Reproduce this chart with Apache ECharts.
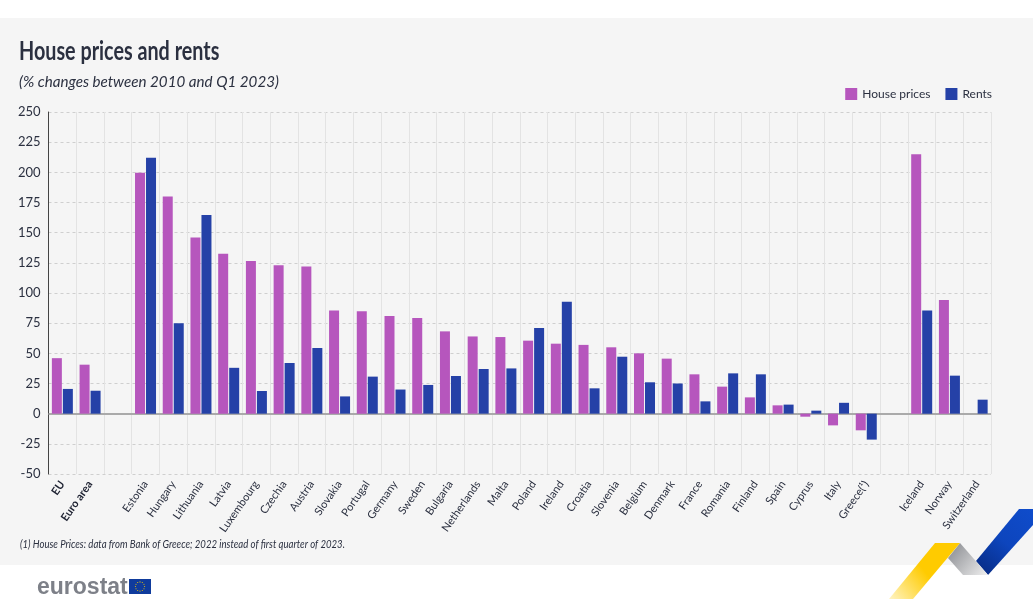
<!DOCTYPE html>
<html>
<head>
<meta charset="utf-8">
<style>html,body{margin:0;padding:0;background:#fff}#main{width:1033px;height:599px}</style>
<script src="https://cdn.jsdelivr.net/npm/echarts@6/dist/echarts.min.js"></script>
</head>
<body>
<div id="main"></div>
<script>
var categories = ['EU','Euro area','','Estonia','Hungary','Lithuania','Latvia','Luxembourg','Czechia','Austria','Slovakia','Portugal','Germany','Sweden','Bulgaria','Netherlands','Malta','Poland','Ireland','Croatia','Slovenia','Belgium','Denmark','France','Romania','Finland','Spain','Cyprus','Italy','Greece(¹)','','Iceland','Norway','Switzerland'];
var housePrices = [46,40.6,null,199.7,180,146,132.6,126.5,123,122,85.4,84.8,81,79.3,68.2,64,63.5,60.5,58,57,55,50,45.6,32.6,22.4,13.5,6.9,-2.5,-9.7,-13.8,null,215,94.2,null];
var rents = [20.5,19,null,212,75,164.6,38,18.8,42,54.4,14.3,30.7,20,23.8,31.2,37,37.5,71,92.8,21,47.2,26,25,10.2,33.4,32.6,7.5,2.5,9,-21.5,null,85.6,31.5,11.6];

var font = 'Lato,"Open Sans",sans-serif';
var textColor = '#2b3040';

var chart = echarts.init(document.getElementById('main'));

// ring of stars on the logo flag
var stars = [];
for (var i = 0; i < 12; i++) {
  var a = i / 12 * Math.PI * 2;
  stars.push({type:'circle', z:-5, shape:{cx:140 + 4.6 * Math.cos(a), cy:586.5 + 4.6 * Math.sin(a), r:0.55}, style:{fill:'#f5c800'}});
}

chart.setOption({
  animation: false,
  backgroundColor: '#fff',
  textStyle: {fontFamily: font},
  graphic: [
    {type:'rect', z:-10, shape:{x:0,y:18,width:1033,height:547}, style:{fill:'#f5f5f5'}},
    // no condensed font installed, so the long texts are squeezed
    {type:'text', z:10, x:19, y:39, scaleX:0.76, style:{text:'House prices and rents', font:'bold 26px ' + font, fill:textColor}},
    {type:'text', z:10, x:19, y:74, scaleX:0.948, style:{text:'(% changes between 2010 and Q1 2023)', font:'italic 16px ' + font, fill:textColor}},
    {type:'text', z:10, x:20, y:538, scaleX:0.80, style:{text:'(1) House Prices: data from Bank of Greece; 2022 instead of first quarter of 2023.', font:'italic 12px ' + font, fill:textColor}},
    {type:'text', z:10, left:37, top:576, style:{text:'eurostat', font:'bold 23px "Liberation Sans",sans-serif', fill:'#7d8088'}},
    {type:'rect', z:-6, shape:{x:129,y:579,width:22,height:15}, style:{fill:'#0f3b9c'}},
    {type:'polygon', z:-5, shape:{points:[[1019,509],[1033,509],[1033,525],[988,575],[976,561]]},
      style:{fill:new echarts.graphic.LinearGradient(0,1,1,0,[{offset:0,color:'#07297f'},{offset:0.5,color:'#0d45bd'},{offset:1,color:'#0f4ccb'}])}},
    {type:'polygon', z:-5, shape:{points:[[960,543],[988,575],[963,575],[948,558]]},
      style:{fill:new echarts.graphic.LinearGradient(0,0,1,1,[{offset:0,color:'#85878c'},{offset:1,color:'#f0f0f0'}])}},
    {type:'polygon', z:-5, shape:{points:[[935,543],[960,543],[913,599],[889,599]]},
      style:{fill:new echarts.graphic.LinearGradient(1,0,0,1,[{offset:0,color:'#ffcb00'},{offset:0.5,color:'#ffcb00'},{offset:1,color:'#fff4c4'}])}}
  ].concat(stars),
  legend: {
    right: 36, top: 83, itemWidth: 12, itemHeight: 12, itemGap: 15,
    icon: 'rect',
    textStyle: {fontFamily: font, fontSize: 12, color: textColor},
    data: ['House prices','Rents']
  },
  grid: {left: 48.5, right: 42, top: 112, bottom: 125},
  xAxis: {
    type: 'category',
    data: categories,
    axisLine: {show:false, onZero:false},
    axisTick: {show:false},
    splitLine: {show:true, interval:0, lineStyle:{color:'#e3e3e3', width:1}},
    axisLabel: {
      interval: 0, rotate: 55, margin: 8,
      fontFamily: font, fontSize: 11, color: textColor,
      formatter: function (v) {
        return (v === 'EU' || v === 'Euro area') ? '{b|' + v + '}' : v;
      },
      rich: {b: {fontWeight:'bold', fontFamily:font, fontSize:11, color:'#1c2030'}}
    }
  },
  yAxis: {
    type: 'value', min: -50, max: 250, interval: 25,
    axisLine: {show:true, lineStyle:{color:'#444', width:1}},
    axisTick: {show:false},
    splitLine: {show:true, lineStyle:{color:'#cfcfcf', type:[3,3], width:1}},
    axisLabel: {margin:8, fontFamily:font, fontSize:13, color:textColor}
  },
  series: [
    {
      name:'House prices', type:'bar', data:housePrices, barWidth:10, barGap:'10%',
      itemStyle:{color:'#b656bd'},
      markLine:{silent:true, symbol:'none', z:1, label:{show:false}, lineStyle:{color:'#aaaaaa', width:2, type:'solid'}, data:[{yAxis:0}]}
    },
    {name:'Rents', type:'bar', data:rents, barWidth:10, itemStyle:{color:'#2541a7'}}
  ]
});
</script>
</body>
</html>
